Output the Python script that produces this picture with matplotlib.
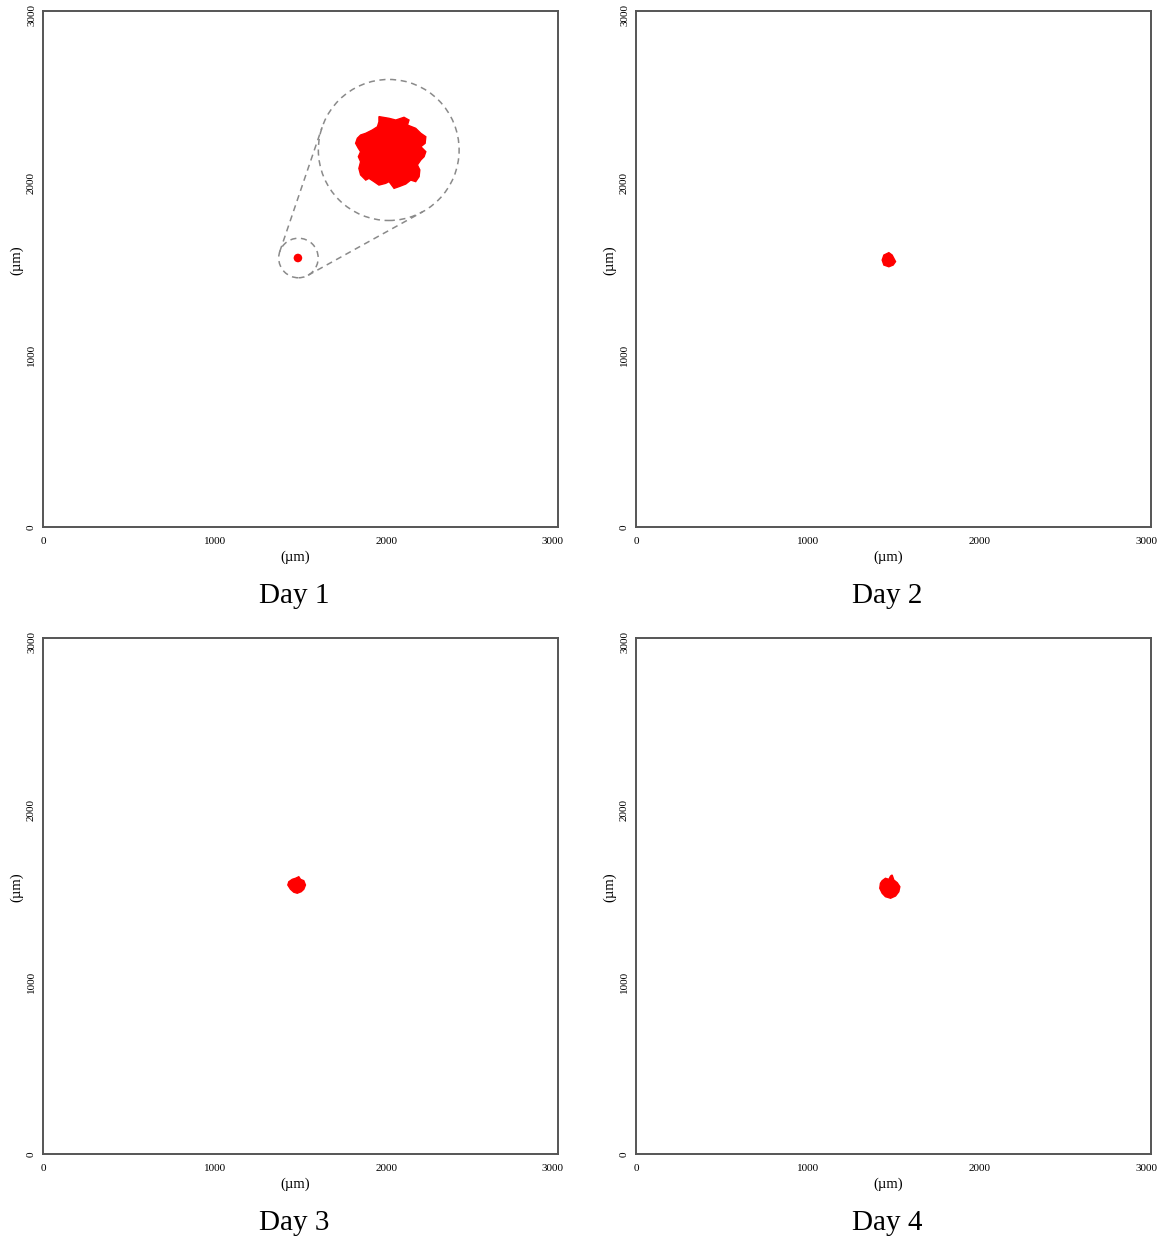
import matplotlib.pyplot as plt
import matplotlib.transforms as mtransforms
import numpy as np
from matplotlib.patches import Circle

plt.rcParams['font.family'] = ['Liberation Serif', 'DejaVu Serif']

days = ["Day 1", "Day 2", "Day 3", "Day 4"]
ticks = [0, 1000, 2000, 3000]

# cluster outlines (um)
day2_x = [1444, 1473, 1492, 1502, 1512, 1498, 1473, 1444, 1434]
day2_y = [1581, 1595, 1581, 1562, 1543, 1523, 1513, 1523, 1552]
day3_x = [1432, 1452, 1471, 1490, 1500, 1519, 1529, 1519, 1504, 1481, 1461, 1442, 1426]
day3_y = [1583, 1597, 1603, 1612, 1597, 1589, 1564, 1539, 1525, 1516, 1522, 1539, 1564]
day4_x = [1434, 1453, 1473, 1483, 1492, 1502, 1522, 1537, 1531, 1512, 1483, 1453, 1434, 1420, 1424]
day4_y = [1589, 1603, 1597, 1616, 1622, 1593, 1577, 1554, 1525, 1500, 1487, 1496, 1516, 1545, 1574]

# day 1: tiny cluster + magnified view
day1_center = (1485, 1564)
day1_radius = 25
zoom_x = [1957, 2016, 2055, 2103, 2132, 2123, 2171, 2201, 2230, 2226, 2201, 2230, 2220, 2201,
          2181, 2195, 2191, 2171, 2142, 2113, 2074, 2045, 2016, 1996, 1957, 1928, 1899, 1880,
          1850, 1840, 1850, 1837, 1850, 1837, 1821, 1831, 1850, 1880, 1918, 1948, 1957]
zoom_y = [2386, 2376, 2366, 2382, 2366, 2337, 2318, 2289, 2269, 2231, 2211, 2182, 2153, 2134,
          2105, 2076, 2037, 2008, 2017, 1994, 1979, 1969, 2008, 1998, 1988, 2008, 2027, 2017,
          2047, 2085, 2124, 2153, 2182, 2202, 2231, 2260, 2279, 2289, 2308, 2327, 2356]
small_ring = (1488, 1564, 115)
big_ring = (2014, 2192, 410)

clusters = {"Day 2": (day2_x, day2_y), "Day 3": (day3_x, day3_y), "Day 4": (day4_x, day4_y)}

W, H = 1160, 1237
fig = plt.figure(figsize=(W / 100, H / 100), dpi=100)
lefts = [43, 636, 43, 636]
bottoms = [527, 527, 1154, 1154]
gray = '#8a8a8a'
dash = (0, (4, 3))

for i, day in enumerate(days):
    ax = fig.add_axes([lefts[i] / W, 1 - bottoms[i] / H, 515 / W, 516 / H])
    ax.set_xlim(0, 3000)
    ax.set_ylim(0, 3000)
    ax.set_xticks(ticks)
    ax.set_yticks(ticks)
    ax.set_xticklabels([str(t) for t in ticks], fontsize=8)
    ax.set_yticklabels([str(t) for t in ticks], fontsize=8, rotation=90, va='center')
    ax.tick_params(axis='x', length=0, pad=7)
    ax.tick_params(axis='y', length=0, pad=5)
    # last labels pulled inward a little, as in the original
    lx = ax.get_xticklabels()[-1]
    lx.set_transform(lx.get_transform() + mtransforms.ScaledTranslation(-0.05, 0, fig.dpi_scale_trans))
    ly = ax.get_yticklabels()[-1]
    ly.set_transform(ly.get_transform() + mtransforms.ScaledTranslation(0, -0.04, fig.dpi_scale_trans))
    for s in ax.spines.values():
        s.set_color('#555555')
        s.set_linewidth(1.4)
    ax.text(0.49, -0.058, "(µm)", transform=ax.transAxes, ha='center', va='center', fontsize=10.5)
    ax.text(-0.052, 0.517, "(µm)", transform=ax.transAxes, ha='center', va='center',
            fontsize=10.5, rotation=90)
    ax.text(0.488, -0.133, day, transform=ax.transAxes, ha='center', va='center', fontsize=21)

    if day == "Day 1":
        ax.add_patch(Circle(day1_center, day1_radius, color='red', lw=0))
        ax.fill(zoom_x, zoom_y, color='red', lw=1)
        x1, y1, r1 = small_ring
        x2, y2, r2 = big_ring
        ax.add_patch(Circle((x1, y1), r1, fill=False, ls=dash, color=gray, lw=1.1))
        ax.add_patch(Circle((x2, y2), r2, fill=False, ls=dash, color=gray, lw=1.1))
        # external tangent lines between the two rings
        d = np.hypot(x2 - x1, y2 - y1)
        th = np.arctan2(y2 - y1, x2 - x1)
        phi = np.arccos((r1 - r2) / d)
        for sgn in (1, -1):
            a = th + sgn * phi
            ax.plot([x1 + r1 * np.cos(a), x2 + r2 * np.cos(a)],
                    [y1 + r1 * np.sin(a), y2 + r2 * np.sin(a)], ls=dash, color=gray, lw=1.1)
    else:
        cx, cy = clusters[day]
        ax.fill(cx, cy, color='red', lw=1)

fig.savefig("out.png", dpi=100)
